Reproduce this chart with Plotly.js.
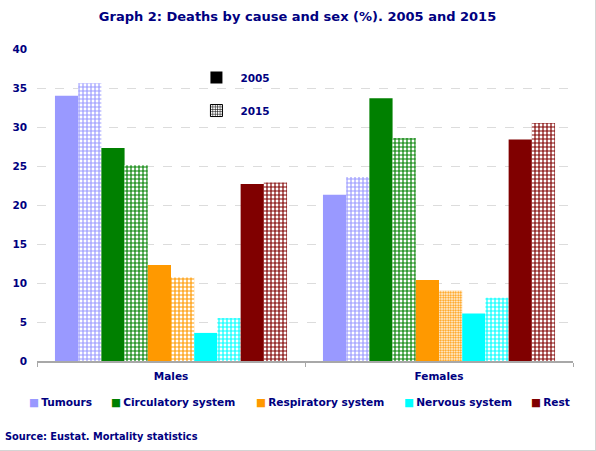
<!DOCTYPE html>
<html>
<head>
<meta charset="utf-8">
<script src="https://cdn.plot.ly/plotly-3.0.1.min.js"></script>
<style>
  html, body { margin:0; padding:0; background:#fff; }
  #chart { width:595px; height:450px; border-right:1px solid #d4d4d4; border-bottom:1px solid #d4d4d4; }
</style>
</head>
<body>
<div id="chart"></div>
<script>
// categories and series (% of deaths)
const sexes = ['Males', 'Females'];
const causes = ['Tumours', 'Circulatory system', 'Respiratory system', 'Nervous system', 'Rest'];
const colors = ['#9999ff', '#008000', '#ff9900', '#00ffff', '#800000'];
const v2005 = [
  [34.0, 21.3],
  [27.3, 33.7],
  [12.3, 10.4],
  [3.6, 6.1],
  [22.7, 28.4],
];
const v2015 = [
  [35.6, 23.6],
  [25.1, 28.6],
  [10.7, 9.0],
  [5.5, 8.1],
  [22.9, 30.5],
];
// the female respiratory 2015 bar is dotted in the original
const pattern2015 = [
  ['+', '+'],
  ['+', '+'],
  ['+', '.'],
  ['+', '+'],
  ['+', '+'],
];

const NAVY = '#000080';
const FONT = 'DejaVu Sans, Verdana, sans-serif';

// left edge (px) of each cause key entry below the chart
const keyLeftPx = [27, 109, 254, 402, 529];
const PLOT_L = 37, PLOT_W = 536;

const traces = [];
causes.forEach((c, i) => {
  traces.push({
    type:'bar', name:c, x:sexes, y:v2005[i], showlegend:false,
    marker:{color:colors[i], line:{width:0}},
    hoverinfo:'y',
  });
  traces.push({
    type:'bar', name:c + ' 2015', x:sexes, y:v2015[i], showlegend:false,
    marker:{color:'#ffffff', line:{width:0},
      pattern:{shape:pattern2015[i], fgcolor:colors[i], bgcolor:'#ffffff',
        size:pattern2015[i].map(s => s === '.' ? 2.5 : 4),
        solidity:pattern2015[i].map(s => s === '.' ? 0.5 : 0.5), fillmode:'replace'}},
    hoverinfo:'y',
  });
});

// year key (its own legend)
['2005', '2015'].forEach((yr, k) => {
  traces.push({
    type:'bar', name:yr, x:[null], y:[null], xaxis:'x2', yaxis:'y2', legend:'legend2', legendgroup:'yr' + yr,
    marker: k === 0 ? {color:'#000000'} :
      {color:'#ffffff', line:{width:1, color:'#000000'}, pattern:{shape:'+', fgcolor:'#000000', bgcolor:'#ffffff', size:3, solidity:0.4}},
  });
});

const keyNotes = causes.map((c, i) => ({
  text:'<span style="color:' + colors[i] + '">■</span>\u2009' + c, showarrow:false,
  xref:'paper', yref:'paper', x:(keyLeftPx[i] - PLOT_L) / PLOT_W, xanchor:'left',
  y:-0.131, yanchor:'middle',
  font:{family:FONT, size:10.6, color:NAVY, weight:'bold'},
}));

const layout = {
  width:595, height:450,
  margin:{l:PLOT_L, r:22, t:49, b:89},
  paper_bgcolor:'#ffffff', plot_bgcolor:'#ffffff',
  font:{family:FONT, color:NAVY, size:10, weight:'bold'},
  title:{text:'Graph 2: Deaths by cause and sex (%). 2005 and 2015',
    font:{family:FONT, size:13, color:NAVY, weight:'bold'},
    x:0.5, xanchor:'center', y:1 - 16/450, yanchor:'middle', yref:'container'},
  barmode:'group', bargap:0.134, bargroupgap:0,
  showlegend:true,
  xaxis:{
    type:'category', showgrid:false, showline:true, linecolor:'#a8a8a8', linewidth:2,
    ticks:'outside', tickson:'boundaries', ticklen:4, tickcolor:'#a8a8a8',
    ticklabelstandoff:4,
    tickfont:{family:FONT, size:10.5, color:NAVY, weight:'bold'},
    zeroline:false,
  },
  yaxis:{
    range:[0, 40], dtick:5, showline:false, zeroline:false,
    gridcolor:'#dcdcdc', griddash:'dash', gridwidth:1,
    ticks:'', ticklabelstandoff:9,
    tickfont:{family:FONT, size:10.5, color:NAVY, weight:'bold'},
  },
  xaxis2:{overlaying:'x', visible:false},
  yaxis2:{overlaying:'y', visible:false},
  legend2:{
    x:0.29, xanchor:'left', y:0.955, yanchor:'top', itemwidth:38,
    font:{family:FONT, size:10.5, color:NAVY, weight:'bold'},
    tracegroupgap:14, bgcolor:'rgba(0,0,0,0)',
  },
  annotations:keyNotes.concat([{
    text:'Source: Eustat. Mortality statistics', showarrow:false,
    xref:'paper', yref:'paper', x:-0.063, xanchor:'left', y:-0.242, yanchor:'middle',
    font:{family:FONT, size:9.8, color:NAVY, weight:'bold'},
  }]),
};

Plotly.newPlot('chart', traces, layout, {displayModeBar:false, staticPlot:true});
</script>
</body>
</html>
